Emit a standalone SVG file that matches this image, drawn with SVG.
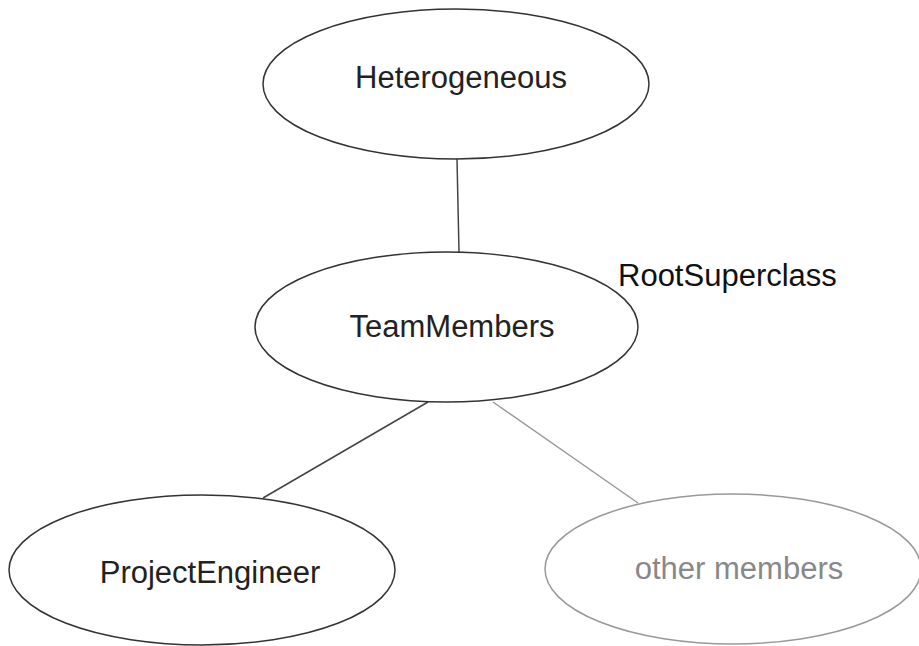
<svg xmlns="http://www.w3.org/2000/svg" width="919" height="646" viewBox="0 0 919 646">
<style>
.node ellipse{fill:#fff;stroke:#333;stroke-width:1.5}
.node text{font-family:"Liberation Sans",Arial,sans-serif;font-size:31px;fill:#222;text-anchor:middle}
.node.muted ellipse{stroke:#999}
.node.muted text{fill:#888}
.conn line{stroke:#444;stroke-width:1.5}
.conn line.muted{stroke:#999}
.label{font-family:"Liberation Sans",Arial,sans-serif;font-size:31px;fill:#111}
</style>
<rect width="919" height="646" fill="#fff"/>
<g id="connectors" class="conn">
<line x1="457" y1="159" x2="459" y2="252"/>
<line x1="428" y1="402" x2="263" y2="498"/>
<line class="muted" x1="493" y1="402" x2="638" y2="503"/>
</g>
<g id="heterogeneous" class="node">
<ellipse cx="456" cy="84" rx="193" ry="75"/>
<text x="461" y="88">Heterogeneous</text>
</g>
<g id="teammembers" class="node">
<ellipse cx="446.5" cy="327" rx="191.5" ry="75"/>
<text x="452" y="337">TeamMembers</text>
</g>
<g id="projectengineer" class="node">
<ellipse cx="202" cy="570" rx="193" ry="75"/>
<text x="210" y="583">ProjectEngineer</text>
</g>
<g id="othermembers" class="node muted">
<ellipse cx="733" cy="569" rx="188" ry="75"/>
<text x="739" y="579">other members</text>
</g>
<text id="rootsuperclass" class="label" x="618" y="286">RootSuperclass</text>
</svg>
